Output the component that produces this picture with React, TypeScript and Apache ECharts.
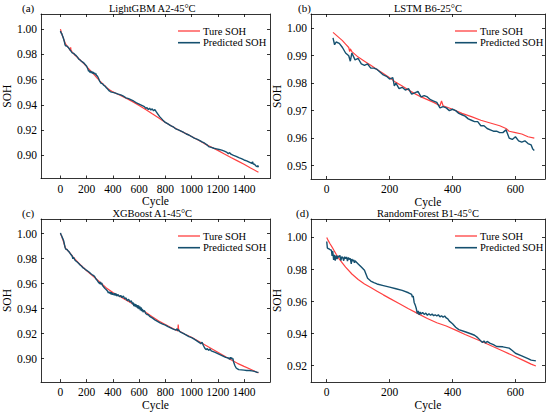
import React, { useEffect, useRef } from "react";
import * as echarts from "echarts";

const FONT = "Liberation Serif";
const RED = "#ff4040";
const BLUE = "#15506f";

const titles = ["LightGBM A2-45°C", "LSTM B6-25°C", "XGBoost A1-45°C", "RandomForest B1-45°C"];
const panelTags = ["(a)", "(b)", "(c)", "(d)"];
const legendNames = ["Ture SOH", "Predicted SOH"];

const xTicksLong = [0, 200, 400, 600, 800, 1000, 1200, 1400];
const xTicksShort = [0, 200, 400, 600];
const yTicksA = [0.9, 0.92, 0.94, 0.96, 0.98, 1.0];
const yTicksB = [0.95, 0.96, 0.97, 0.98, 0.99, 1.0];
const yTicksC = [0.9, 0.92, 0.94, 0.96, 0.98, 1.0];
const yTicksD = [0.92, 0.94, 0.96, 0.98, 1.0];

// Panel (a) LightGBM A2-45°C
const aTrueX = [0, 5, 10, 20, 30, 40, 50, 60, 70, 75, 78, 80, 90, 100, 120, 140, 160, 180, 200, 220, 240, 260, 280, 300, 320, 340, 360, 380, 400, 450, 500, 550, 600, 650, 700, 750, 800, 850, 900, 950, 1000, 1050, 1100, 1150, 1200, 1250, 1300, 1350, 1400, 1450, 1510];
const aTrueY = [1.0, 0.998, 0.996, 0.9935, 0.9905, 0.988, 0.9868, 0.9855, 0.9842, 0.983, 0.9855, 0.9835, 0.9818, 0.9805, 0.9785, 0.9765, 0.9745, 0.9725, 0.9702, 0.968, 0.9658, 0.9635, 0.9612, 0.959, 0.957, 0.955, 0.953, 0.9515, 0.9502, 0.9478, 0.9452, 0.9425, 0.9395, 0.9362, 0.9328, 0.9295, 0.926, 0.923, 0.92, 0.9175, 0.9148, 0.912, 0.909, 0.9065, 0.9038, 0.901, 0.8982, 0.8955, 0.8928, 0.8898, 0.8865];
const aPredX = [0, 5, 10, 15, 20, 25, 30, 35, 40, 50, 60, 70, 80, 90, 100, 110, 120, 130, 140, 150, 160, 170, 180, 190, 200, 210, 215, 220, 225, 230, 235, 240, 245, 250, 255, 260, 265, 270, 275, 280, 290, 300, 310, 320, 330, 340, 350, 360, 370, 380, 390, 400, 420, 440, 460, 480, 500, 520, 540, 560, 580, 600, 620, 640, 650, 660, 670, 680, 690, 700, 710, 720, 730, 740, 750, 760, 780, 800, 820, 840, 860, 880, 900, 920, 940, 960, 980, 1000, 1020, 1040, 1060, 1080, 1100, 1120, 1130, 1150, 1170, 1190, 1210, 1230, 1250, 1270, 1280, 1290, 1300, 1320, 1340, 1360, 1380, 1400, 1420, 1440, 1460, 1465, 1470, 1480, 1490, 1500, 1505, 1510];
const aPredY = [0.9985, 0.997, 0.9965, 0.995, 0.9935, 0.992, 0.99, 0.9875, 0.9868, 0.9865, 0.9855, 0.984, 0.9825, 0.9812, 0.9808, 0.9798, 0.979, 0.9778, 0.9762, 0.9755, 0.9745, 0.9738, 0.973, 0.9718, 0.9705, 0.9682, 0.9665, 0.9672, 0.9655, 0.9668, 0.9652, 0.9665, 0.9648, 0.966, 0.9645, 0.9655, 0.964, 0.9648, 0.9628, 0.9632, 0.961, 0.9585, 0.957, 0.9568, 0.9555, 0.9548, 0.9535, 0.9525, 0.9512, 0.9505, 0.95, 0.9498, 0.9492, 0.9485, 0.9478, 0.9468, 0.9455, 0.9448, 0.9438, 0.9428, 0.9415, 0.9405, 0.9395, 0.9385, 0.9372, 0.9378, 0.9362, 0.9372, 0.9358, 0.9368, 0.9352, 0.9362, 0.9345, 0.933, 0.9315, 0.9302, 0.928, 0.926, 0.9248, 0.9235, 0.9225, 0.9208, 0.92, 0.919, 0.918, 0.9168, 0.916, 0.9148, 0.9135, 0.9128, 0.9118, 0.9105, 0.9095, 0.908, 0.9068, 0.9062, 0.9055, 0.905, 0.9045, 0.904, 0.9032, 0.9022, 0.9012, 0.902, 0.9008, 0.8998, 0.899, 0.898, 0.8972, 0.8962, 0.8955, 0.8945, 0.8935, 0.8948, 0.893, 0.8928, 0.8915, 0.891, 0.8918, 0.8905];

// Panel (b) LSTM B6-25°C
const bTrueX = [20, 30, 40, 50, 60, 70, 73, 75, 80, 90, 100, 120, 140, 160, 180, 200, 220, 240, 260, 280, 300, 320, 340, 360, 365, 370, 400, 430, 460, 490, 520, 550, 570, 580, 600, 620, 640, 660];
const bTrueY = [0.9985, 0.9975, 0.9965, 0.9955, 0.9942, 0.993, 0.9915, 0.9925, 0.9915, 0.9905, 0.9895, 0.988, 0.9865, 0.985, 0.9835, 0.982, 0.9803, 0.979, 0.9775, 0.9762, 0.975, 0.974, 0.973, 0.9718, 0.9735, 0.9718, 0.9705, 0.969, 0.9678, 0.9665, 0.9655, 0.9645, 0.9635, 0.9625, 0.962, 0.9615, 0.9605, 0.96];
const bPredX = [20, 25, 30, 40, 50, 60, 70, 75, 80, 90, 100, 110, 120, 130, 140, 150, 160, 170, 180, 190, 200, 210, 215, 220, 230, 240, 250, 260, 270, 280, 290, 300, 310, 320, 330, 340, 350, 360, 370, 380, 390, 400, 410, 420, 430, 440, 450, 460, 470, 480, 490, 500, 510, 520, 530, 540, 550, 560, 570, 580, 590, 600, 610, 620, 630, 640, 650, 655, 660];
const bPredY = [0.9965, 0.994, 0.995, 0.9945, 0.993, 0.991, 0.99, 0.988, 0.991, 0.9885, 0.989, 0.987, 0.9865, 0.987, 0.9855, 0.9855, 0.985, 0.984, 0.983, 0.9825, 0.9815, 0.982, 0.979, 0.98, 0.978, 0.9785, 0.9775, 0.978, 0.976, 0.9765, 0.977, 0.975, 0.9755, 0.975, 0.974, 0.9735, 0.973, 0.971, 0.9715, 0.971, 0.97, 0.9705, 0.97, 0.969, 0.9685, 0.968, 0.967, 0.9665, 0.966, 0.966, 0.9645, 0.9645, 0.9635, 0.963, 0.9625, 0.9625, 0.962, 0.962, 0.963, 0.96, 0.9595, 0.9605, 0.959, 0.9585, 0.959, 0.958, 0.9575, 0.956, 0.9555];

// Panel (c) XGBoost A1-45°C
const cTrueX = [0, 10, 20, 30, 40, 50, 60, 80, 100, 120, 140, 160, 180, 200, 250, 300, 350, 400, 450, 500, 550, 600, 650, 700, 750, 800, 850, 895, 898, 902, 950, 1000, 1050, 1100, 1150, 1200, 1250, 1300, 1350, 1400, 1450, 1510];
const cTrueY = [1.0, 0.9975, 0.9945, 0.991, 0.988, 0.987, 0.986, 0.9835, 0.9808, 0.9785, 0.9762, 0.9742, 0.9722, 0.9702, 0.9658, 0.9612, 0.9565, 0.9528, 0.9498, 0.9468, 0.9438, 0.9405, 0.937, 0.9335, 0.93, 0.9272, 0.9245, 0.922, 0.9272, 0.9222, 0.9195, 0.917, 0.914, 0.911, 0.908, 0.905, 0.902, 0.899, 0.8962, 0.8938, 0.8915, 0.8885];
const cPredX = [0, 5, 10, 15, 20, 25, 30, 35, 40, 50, 55, 60, 70, 80, 90, 95, 100, 110, 120, 130, 140, 150, 160, 170, 180, 190, 200, 210, 220, 230, 240, 250, 260, 270, 280, 290, 300, 305, 310, 315, 320, 330, 340, 350, 360, 365, 370, 375, 380, 385, 390, 395, 400, 410, 415, 420, 425, 430, 440, 450, 460, 470, 480, 490, 500, 510, 520, 530, 540, 550, 555, 560, 565, 570, 575, 580, 585, 590, 595, 600, 605, 610, 615, 620, 625, 630, 640, 650, 660, 670, 680, 690, 700, 720, 740, 760, 780, 800, 820, 840, 860, 880, 890, 895, 900, 910, 920, 940, 960, 980, 1000, 1020, 1040, 1060, 1070, 1080, 1090, 1100, 1110, 1120, 1130, 1140, 1150, 1160, 1180, 1200, 1220, 1240, 1260, 1280, 1290, 1295, 1300, 1305, 1310, 1315, 1320, 1330, 1340, 1350, 1360, 1380, 1400, 1420, 1440, 1460, 1480, 1500, 1510];
const cPredY = [1.0005, 0.999, 0.998, 0.9965, 0.9955, 0.994, 0.9915, 0.989, 0.9875, 0.9872, 0.9865, 0.986, 0.9848, 0.9832, 0.9818, 0.9798, 0.981, 0.9788, 0.9778, 0.977, 0.976, 0.9748, 0.974, 0.9728, 0.9722, 0.9712, 0.9705, 0.9698, 0.969, 0.968, 0.9672, 0.9665, 0.9658, 0.9638, 0.9625, 0.961, 0.9598, 0.9612, 0.9592, 0.9605, 0.9585, 0.9572, 0.956, 0.955, 0.9538, 0.9525, 0.9535, 0.952, 0.9532, 0.9515, 0.953, 0.951, 0.9522, 0.9508, 0.9522, 0.9505, 0.9518, 0.95, 0.9512, 0.9495, 0.9505, 0.9488, 0.95, 0.9478, 0.9485, 0.9462, 0.9475, 0.9452, 0.9462, 0.9435, 0.9448, 0.942, 0.944, 0.9415, 0.9435, 0.941, 0.9428, 0.9402, 0.9425, 0.9395, 0.9418, 0.9385, 0.941, 0.938, 0.9398, 0.9372, 0.9385, 0.936, 0.9352, 0.935, 0.9338, 0.9332, 0.9325, 0.931, 0.9298, 0.9285, 0.9275, 0.9268, 0.9255, 0.9245, 0.9235, 0.9228, 0.9238, 0.9222, 0.9232, 0.9215, 0.921, 0.92, 0.9188, 0.9175, 0.9168, 0.9155, 0.9142, 0.9128, 0.9118, 0.913, 0.9105, 0.9085, 0.9072, 0.908, 0.9065, 0.9078, 0.9062, 0.9058, 0.905, 0.904, 0.903, 0.902, 0.901, 0.9005, 0.8995, 0.901, 0.8998, 0.9008, 0.8995, 0.9002, 0.8975, 0.8945, 0.8925, 0.8918, 0.8912, 0.891, 0.8908, 0.8905, 0.8905, 0.8902, 0.8898, 0.889, 0.889];

// Panel (d) RandomForest B1-45°C
const dTrueX = [0, 5, 10, 20, 30, 40, 50, 60, 80, 100, 120, 140, 160, 180, 200, 230, 260, 290, 320, 350, 380, 410, 440, 470, 500, 530, 560, 590, 620, 650, 665];
const dTrueY = [1.0, 0.998, 0.9962, 0.993, 0.9895, 0.9865, 0.984, 0.9815, 0.9772, 0.9738, 0.971, 0.9688, 0.9665, 0.9642, 0.962, 0.9588, 0.9555, 0.9525, 0.9495, 0.9468, 0.9448, 0.9422, 0.9395, 0.937, 0.9345, 0.9318, 0.9292, 0.9265, 0.9238, 0.921, 0.9198];
const dPredX = [0, 2, 5, 8, 12, 15, 17, 19, 22, 24, 27, 30, 33, 36, 39, 42, 45, 48, 51, 54, 57, 60, 63, 66, 69, 72, 75, 78, 80, 83, 86, 88, 90, 100, 110, 120, 125, 130, 140, 150, 160, 180, 200, 220, 240, 260, 270, 272, 275, 278, 282, 285, 288, 291, 294, 297, 300, 305, 310, 315, 320, 325, 330, 335, 340, 345, 350, 355, 360, 365, 370, 375, 380, 385, 390, 400, 410, 420, 440, 460, 470, 480, 490, 495, 500, 505, 510, 520, 530, 540, 560, 580, 590, 600, 620, 640, 650, 660, 665];
const dPredY = [0.9975, 0.9935, 0.993, 0.9928, 0.9922, 0.992, 0.9885, 0.9915, 0.986, 0.9892, 0.9855, 0.9888, 0.9865, 0.9885, 0.9878, 0.9888, 0.9855, 0.988, 0.9875, 0.9855, 0.988, 0.9868, 0.9878, 0.9852, 0.9875, 0.9862, 0.987, 0.9835, 0.9865, 0.9852, 0.986, 0.9842, 0.9855, 0.9835, 0.9815, 0.9795, 0.977, 0.9745, 0.9728, 0.9718, 0.971, 0.97, 0.969, 0.968, 0.967, 0.9655, 0.9645, 0.9628, 0.9635, 0.9595, 0.9575, 0.9555, 0.9525, 0.9542, 0.9518, 0.9535, 0.9522, 0.9532, 0.952, 0.9528, 0.9515, 0.9525, 0.9515, 0.9522, 0.9512, 0.9518, 0.951, 0.9518, 0.9505, 0.9512, 0.9502, 0.951, 0.9498, 0.9492, 0.9478, 0.9462, 0.944, 0.9425, 0.9412, 0.9398, 0.939, 0.9375, 0.9355, 0.9345, 0.9355, 0.9342, 0.9352, 0.934, 0.9332, 0.932, 0.9318, 0.931, 0.9295, 0.9278, 0.9262, 0.9245, 0.9235, 0.9232, 0.923];

const zip = (xs: number[], ys: number[]) => xs.map((x, i) => [x, ys[i]]);

type Panel = {
  grid: { left: number; top: number; width: number; height: number };
  xMin: number; xMax: number; xTicks: number[];
  yMin: number; yMax: number; yTicks: number[];
  trueData: number[][]; predData: number[][];
  legend: { left: number; top: number };
  tagX: number;
};

const panels: Panel[] = [
  { grid: { left: 34.5, top: 14, width: 235.5, height: 164.5 }, xMin: -148, xMax: 1598, xTicks: xTicksLong, yMin: 0.8815, yMax: 1.012, yTicks: yTicksA, trueData: zip(aTrueX, aTrueY), predData: zip(aPredX, aPredY), legend: { left: 178, top: 31 }, tagX: 22 },
  { grid: { left: 311, top: 14, width: 234, height: 165 }, xMin: -50, xMax: 694, xTicks: xTicksShort, yMin: 0.9451, yMax: 1.0052, yTicks: yTicksB, trueData: zip(bTrueX, bTrueY), predData: zip(bPredX, bPredY), legend: { left: 455, top: 31 }, tagX: 298 },
  { grid: { left: 34.5, top: 219, width: 235.5, height: 165 }, xMin: -148, xMax: 1598, xTicks: xTicksLong, yMin: 0.8812, yMax: 1.0116, yTicks: yTicksC, trueData: zip(cTrueX, cTrueY), predData: zip(cPredX, cPredY), legend: { left: 178, top: 236 }, tagX: 22 },
  { grid: { left: 311, top: 219, width: 234, height: 166 }, xMin: -50, xMax: 694, xTicks: xTicksShort, yMin: 0.9098, yMax: 1.0115, yTicks: yTicksD, trueData: zip(dTrueX, dTrueY), predData: zip(dPredX, dPredY), legend: { left: 455, top: 236 }, tagX: 296 },
];

const seriesColors = [RED, BLUE];

function buildOption() {
  const grid: any[] = [];
  const xAxis: any[] = [];
  const yAxis: any[] = [];
  const series: any[] = [];
  const graphic: any[] = [];
  const axisLine = { show: true, onZero: false, lineStyle: { color: "#000", width: 0.8 } };
  const tick = (vals: number[]) => ({ show: true, inside: true, length: 3, customValues: vals, lineStyle: { color: "#000", width: 0.8 } });
  const txt = { color: "#000", fontFamily: FONT };

  panels.forEach((p, i) => {
    grid.push({ ...p.grid, containLabel: false });
    const xBase = { type: "value", gridIndex: i, min: p.xMin, max: p.xMax, splitLine: { show: false }, axisLine };
    xAxis.push({
      ...xBase, position: "bottom", axisTick: tick(p.xTicks),
      axisLabel: { customValues: p.xTicks, margin: 4, fontSize: 11.5, ...txt, formatter: (v: number) => String(v) },
      name: "Cycle", nameLocation: "middle", nameGap: 14,
      nameTextStyle: { fontSize: 11.5, ...txt },
    });
    xAxis.push({ ...xBase, position: "top", axisTick: tick(p.xTicks), axisLabel: { show: false } });
    const yBase = { type: "value", gridIndex: i, min: p.yMin, max: p.yMax, splitLine: { show: false }, axisLine };
    yAxis.push({
      ...yBase, position: "left", axisTick: tick(p.yTicks),
      axisLabel: { customValues: p.yTicks, margin: 4, fontSize: 11.5, ...txt, formatter: (v: number) => v.toFixed(2) },
      name: "SOH", nameLocation: "middle", nameGap: 24,
      nameTextStyle: { fontSize: 11.5, ...txt },
    });
    yAxis.push({ ...yBase, position: "right", axisTick: tick(p.yTicks), axisLabel: { show: false } });

    series.push({
      type: "line", name: legendNames[0], xAxisIndex: 2 * i, yAxisIndex: 2 * i,
      data: p.trueData, symbol: "none", showSymbol: false,
      lineStyle: { color: RED, width: 1.2 }, itemStyle: { color: RED },
    });
    series.push({
      type: "line", name: legendNames[1], xAxisIndex: 2 * i, yAxisIndex: 2 * i,
      data: p.predData, symbol: "none", showSymbol: false,
      lineStyle: { color: BLUE, width: 1.4 }, itemStyle: { color: BLUE },
    });

    legendNames.forEach((name, k) => {
      const y = p.legend.top + k * 11.7;
      graphic.push({
        type: "line", shape: { x1: p.legend.left, y1: y, x2: p.legend.left + 22, y2: y },
        style: { stroke: seriesColors[k], lineWidth: k === 0 ? 1.3 : 1.6 },
      });
      graphic.push({
        type: "text", x: p.legend.left + 25, y,
        style: { text: name, fill: "#000", font: `10.5px ${FONT}`, textAlign: "left", textVerticalAlign: "middle" },
      });
    });

    graphic.push({
      type: "text", x: p.grid.left + p.grid.width / 2, y: p.grid.top - 6,
      style: { text: titles[i], fill: "#000", font: `10.5px ${FONT}`, textAlign: "center", textVerticalAlign: "middle" },
    });
    graphic.push({
      type: "text", x: p.tagX, y: p.grid.top - 6,
      style: { text: panelTags[i], fill: "#000", font: `11px ${FONT}`, textAlign: "left", textVerticalAlign: "middle" },
    });
  });

  return {
    animation: false, backgroundColor: "#fff",
    textStyle: { fontFamily: FONT, color: "#000" },
    grid, xAxis, yAxis, series, graphic,
  };
}

export default function App() {
  const ref = useRef<HTMLDivElement>(null);
  useEffect(() => {
    if (!ref.current) return;
    const chart = echarts.init(ref.current, undefined, { renderer: "svg" });
    chart.setOption(buildOption() as any);
    return () => chart.dispose();
  }, []);
  return <div ref={ref} style={{ position: "fixed", left: 0, top: 0, width: 550, height: 412, background: "#fff" }} />;
}
